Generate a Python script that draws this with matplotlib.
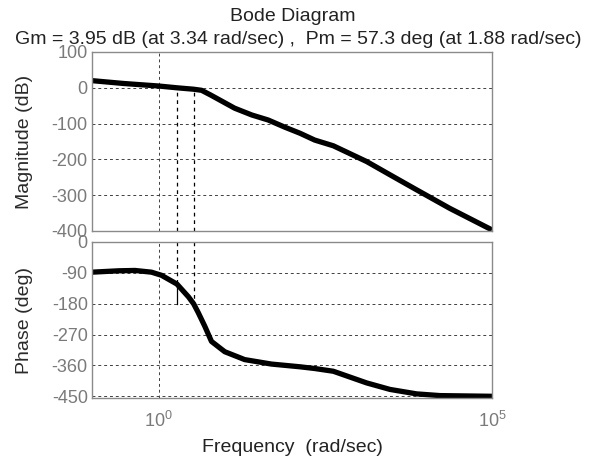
import matplotlib
matplotlib.use("Agg")
import matplotlib.pyplot as plt
from matplotlib.ticker import FixedLocator, NullLocator

plt.rcParams['font.family'] = ['Liberation Sans', 'DejaVu Sans']
plt.rcParams['axes.unicode_minus'] = False  # MATLAB style hyphen minus
plt.rcParams['mathtext.fontset'] = 'custom'
plt.rcParams['mathtext.rm'] = 'Liberation Sans'
plt.rcParams['mathtext.it'] = 'Liberation Sans:italic'

# margins read from the title
gm_db = 3.95
w_gc = 3.34
pm_deg = 57.3
w_pc = 1.88

# magnitude curve (rad/sec, dB)
mag_freq = [0.1, 0.3, 1.0, 1.88, 3.34, 4.4, 6.0, 9.0, 13.8, 25, 44, 78,
            132, 219, 417, 1318, 2950, 7400, 23400, 1e5]
mag_db = [20, 12, 5, 0, -3.95, -7, -20, -38, -57, -76, -90, -110,
          -127, -146, -162, -206, -243, -285, -337, -397]

# phase curve (rad/sec, deg)
ph_freq = [0.1, 0.25, 0.44, 0.78, 1.1, 1.88, 2.8, 3.34, 3.9, 4.9, 6.2,
           9.8, 19.5, 49, 132, 219, 417, 1318, 2950, 7400, 16600, 1e5]
ph_deg = [-88, -84, -83, -88, -97, -122.7, -160, -180, -205, -245, -290,
          -320, -343, -356, -364, -369, -377, -411, -430, -443, -448, -450]

mag_ticks = [100, 0, -100, -200, -300, -400]
ph_ticks = [0, -90, -180, -270, -360, -450]
x_ticks = [1, 1e5]
x_labels = [r'$\mathregular{10^0}$', r'$\mathregular{10^5}$']

fig = plt.figure(figsize=(5.9, 4.59), dpi=100)
ax1 = fig.add_axes([92 / 590, 1 - 231 / 459, 400 / 590, 179 / 459])
ax2 = fig.add_axes([92 / 590, 1 - 398 / 459, 400 / 590, 156 / 459])

grid_kw = dict(color='0.25', linestyle=(0, (3, 3)), linewidth=0.7)
tick_col = '#7a7a7a'

for ax in (ax1, ax2):
    ax.set_xscale('log')
    ax.set_xlim(0.1, 1e5)
    ax.xaxis.set_major_locator(FixedLocator(x_ticks))
    ax.xaxis.set_minor_locator(NullLocator())
    ax.grid(True, **grid_kw)
    ax.set_axisbelow(True)
    for s in ax.spines.values():
        s.set_color('#8a8a8a')
        s.set_linewidth(1.0)
    ax.tick_params(length=0, labelsize=13, colors=tick_col, pad=3)

# magnitude
ax1.plot(mag_freq, mag_db, color='black', linewidth=3.8, solid_capstyle='butt')
ax1.set_ylim(-400, 100)
ax1.set_yticks(mag_ticks)
ax1.set_xticklabels([])
ax1.set_ylabel('Magnitude (dB)', fontsize=14, color='#2a2a2a')
ax1.plot([w_pc, w_pc], [-400, 0], color='black', linestyle=(0, (3, 3)), linewidth=0.9)
ax1.plot([w_gc, w_gc], [-400, -gm_db], color='black', linestyle=(0, (3, 3)), linewidth=0.9)
ax1.plot([w_gc, w_gc], [0, -gm_db], color='black', linewidth=0.9)

# phase
ax2.plot(ph_freq, ph_deg, color='black', linewidth=3.8, solid_capstyle='butt')
ax2.set_ylim(-455, 0)
ax2.set_yticks(ph_ticks)
ax2.set_xticklabels(x_labels)
ax2.tick_params(axis='x', pad=9)
ax2.set_ylabel('Phase (deg)', fontsize=14, color='#2a2a2a')
ax2.set_xlabel('Frequency  (rad/sec)', fontsize=14, color='#222222', labelpad=6)
ax2.plot([w_pc, w_pc], [0, -180 + pm_deg], color='black', linestyle=(0, (3, 3)), linewidth=0.9)
ax2.plot([w_pc, w_pc], [-180 + pm_deg, -180], color='black', linewidth=0.9)
ax2.plot([w_gc, w_gc], [0, -180], color='black', linestyle=(0, (3, 3)), linewidth=0.9)

# align y labels
for ax in (ax1, ax2):
    ax.yaxis.set_label_coords(-0.148, 0.5)

fig.text(0.496, 0.954, 'Bode Diagram', ha='center', va='baseline', fontsize=14, color='#222222')
fig.text(0.506, 0.904,
         'Gm = 3.95 dB (at 3.34 rad/sec) ,  Pm = 57.3 deg (at 1.88 rad/sec)',
         ha='center', va='baseline', fontsize=14, color='#222222')

fig.savefig('out.png', dpi=100)
